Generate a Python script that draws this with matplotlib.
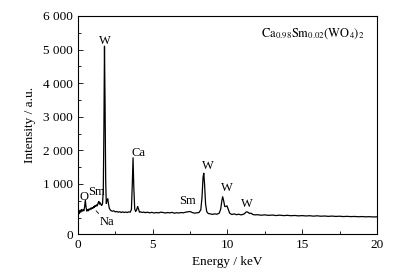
import matplotlib
matplotlib.use("Agg")
import matplotlib.pyplot as plt
from matplotlib.ticker import MultipleLocator

plt.rcParams["font.family"] = ["Liberation Serif", "DejaVu Serif"]
plt.rcParams["mathtext.fontset"] = "stix"

# EDS spectrum (energy in keV, counts)
energy = [
    0.00, 0.05, 0.10, 0.15, 0.20, 0.25, 0.30, 0.35, 0.40, 0.45, 0.50, 0.55,
    0.60, 0.65, 0.70, 0.75, 0.80, 0.85, 0.90, 0.95, 1.00, 1.05, 1.10, 1.15,
    1.20, 1.25, 1.30, 1.35, 1.40, 1.45, 1.50, 1.55, 1.60, 1.65, 1.70, 1.74,
    1.78, 1.82, 1.86, 1.90, 1.95, 2.00, 2.05, 2.10, 2.15, 2.20, 2.30, 2.40,
    2.50, 2.60, 2.70, 2.80, 2.90, 3.00, 3.10, 3.20, 3.30, 3.40, 3.50, 3.58,
    3.64, 3.69, 3.74, 3.80, 3.86, 3.92, 4.00, 4.06, 4.12, 4.20, 4.30, 4.40,
    4.50, 4.65, 4.80, 4.95, 5.10, 5.25, 5.40, 5.55, 5.70, 5.85, 6.00, 6.15,
    6.30, 6.45, 6.60, 6.75, 6.90, 7.05, 7.20, 7.35, 7.50, 7.65, 7.80, 7.95,
    8.10, 8.22, 8.30, 8.37, 8.42, 8.47, 8.54, 8.62, 8.72, 8.85, 9.00, 9.15,
    9.30, 9.45, 9.55, 9.62, 9.68, 9.74, 9.82, 9.90, 9.97, 10.05, 10.15, 10.30,
    10.45, 10.60, 10.75, 10.90, 11.05, 11.15, 11.25, 11.32, 11.40, 11.48,
    11.58, 11.70, 11.85, 12.00, 12.25, 12.50, 12.75, 13.00, 13.25, 13.50,
    13.75, 14.00, 14.25, 14.50, 14.75, 15.00, 15.25, 15.50, 15.75, 16.00,
    16.25, 16.50, 16.75, 17.00, 17.25, 17.50, 17.75, 18.00, 18.25, 18.50,
    18.75, 19.00, 19.25, 19.50, 19.75, 20.00,
]
counts = [
    60, 180, 120, 220, 160, 240, 190, 230, 200, 320, 520, 300,
    190, 240, 200, 260, 230, 280, 250, 300, 270, 330, 300, 360,
    330, 380, 350, 430, 480, 400, 440, 380, 360, 420, 800, 2600,
    5100, 3300, 1100, 420, 520, 560, 400, 280, 240, 210, 190, 200,
    170, 180, 160, 175, 150, 170, 150, 165, 150, 170, 160, 240,
    1000, 1780, 900, 260, 180, 220, 330, 240, 160, 170, 150, 165,
    145, 160, 140, 155, 135, 150, 140, 160, 150, 135, 150, 140,
    155, 130, 145, 135, 150, 140, 160, 170, 180, 150, 130, 140,
    150, 230, 600, 1200, 1320, 1000, 400, 170, 120, 110, 95, 110,
    100, 130, 250, 480, 620, 520, 330, 330, 350, 250, 130, 90,
    110, 85, 100, 80, 95, 120, 165, 170, 150, 120,
    130, 90, 80, 85, 70, 80, 65, 75, 60, 72,
    58, 66, 55, 62, 50, 58, 48, 55, 42, 52,
    40, 46, 36, 44, 34, 40, 30, 36, 28, 33,
    24, 30, 22, 26, 18, 22,
]

# peak labels: (text, energy, counts)
peak_labels = [
    ("W", 1.80, 5260),
    ("Ca", 4.05, 1920),
    ("O", 0.40, 610),
    ("Sm", 1.25, 760),
    ("Sm", 7.35, 490),
    ("W", 8.70, 1530),
    ("W", 9.97, 880),
    ("W", 11.30, 400),
]

ytick_vals = [1000, 2000, 3000, 4000, 5000, 6000]
ytick_text = ["1 000", "2 000", "3 000", "4 000", "5 000", "6 000"]
y_bottom = -490

fig = plt.figure(figsize=(4.12, 2.75), dpi=100)
ax = fig.add_axes([0.189, 0.149, 0.726, 0.793])

ax.plot(energy, counts, color="black", linewidth=0.9)

for text, x, y in peak_labels:
    ax.text(x, y, text, ha="center", va="center", fontsize=9)

ax.annotate("Na", xy=(1.22, 200), xytext=(1.95, -140),
            ha="center", va="center", fontsize=9,
            arrowprops=dict(arrowstyle="-", color="black", lw=0.6,
                            shrinkA=4, shrinkB=0))

ax.text(0.96, 0.92, r"$\mathrm{Ca_{0.98}Sm_{0.02}(WO_4)_2}$",
        transform=ax.transAxes, ha="right", va="center", fontsize=9)

ax.set_xlim(0, 20)
ax.set_ylim(y_bottom, 6000)
ax.set_xticks([0, 5, 10, 15, 20])
ax.xaxis.set_minor_locator(MultipleLocator(2.5))
ax.set_yticks([y_bottom] + ytick_vals)
ax.set_yticklabels(["0"] + ytick_text)
ax.yaxis.set_minor_locator(MultipleLocator(500))

ax.tick_params(which="both", direction="in", top=False, right=False,
               labelsize=9.5, width=0.6)
ax.tick_params(which="major", length=3.5)
ax.tick_params(which="minor", length=2)
for s in ax.spines.values():
    s.set_linewidth(0.8)

ax.set_xlabel("Energy / keV", fontsize=9.5, labelpad=4)
ax.set_ylabel("Intensity / a.u.", fontsize=9.5, labelpad=5)

fig.savefig("out.png", dpi=100)
